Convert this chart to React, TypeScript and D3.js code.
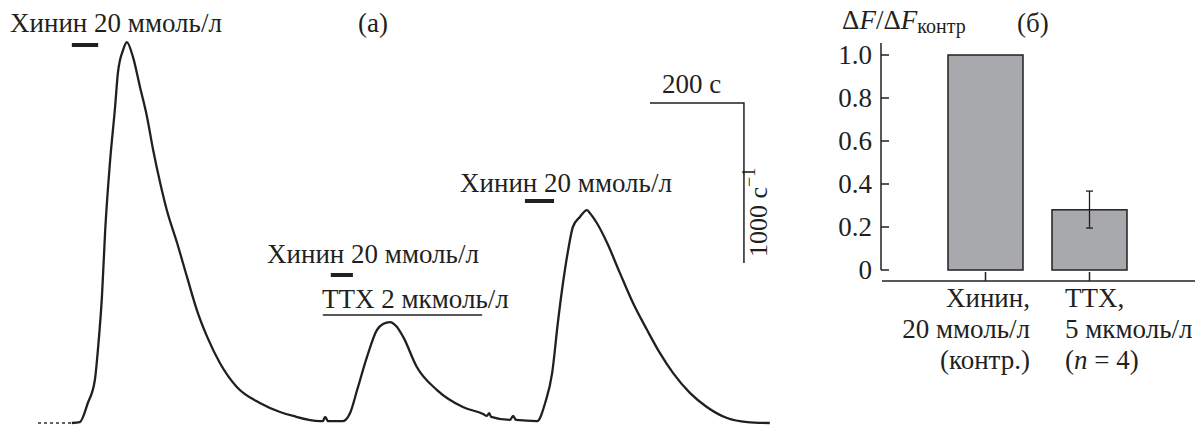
import React from "react";
import * as d3 from "d3";

// ---------- Panel (a): fluorescence trace ----------
// time, s
const traceTime = [0, 26, 51, 72, 89, 106, 121, 128, 136, 143, 153, 164, 170, 181, 189, 202, 217, 232, 245, 260, 274, 296, 317, 338, 360, 387, 423, 472, 515, 543, 600, 606, 611, 617, 649, 664, 679, 700, 721, 734, 749, 762, 777, 806, 849, 904, 947, 955, 960, 964, 1004, 1011, 1017, 1062, 1079, 1094, 1106, 1117, 1128, 1138, 1153, 1168, 1174, 1189, 1211, 1238, 1266, 1296, 1323, 1351, 1387, 1423, 1466, 1509, 1557];
// signal, s^-1
const traceSignal = [0, 0, 0, 0, 6, 125, 269, 475, 788, 1206, 1625, 1975, 2188, 2331, 2381, 2288, 2100, 1913, 1706, 1500, 1331, 1125, 913, 706, 538, 375, 225, 125, 69, 44, 12, 12, 38, 12, 12, 62, 206, 413, 581, 619, 631, 606, 538, 350, 206, 100, 56, 44, 62, 38, 19, 44, 19, 12, 125, 313, 625, 875, 1081, 1225, 1288, 1331, 1313, 1250, 1125, 938, 750, 581, 438, 313, 188, 100, 31, 6, 0];
const recordStart = 72; // s, solid trace starts here

// stimulus applications (s)
const quinineStart = [72, 623, 1036];
const quinineEnd = [128, 670, 1098];
const ttxPeriod = [606, 945];

const scaleBarTime = [1302, 1502];
const scaleBarSignal = [1000, 2000];

// ---------- Panel (б): bar chart ----------
const categories = ["quinine", "ttx"];
const barValues = [1.0, 0.28];
const barErrLow = [null, 0.195];
const barErrHigh = [null, 0.367];
const yTickValues = [0, 0.2, 0.4, 0.6, 0.8, 1.0];
const yTickLabels = ["0", "0.2", "0.4", "0.6", "0.8", "1.0"];

const INK = "#231f20";
const FONT = "Liberation Serif";

function T(props: any) {
  const { children, ...rest } = props;
  return (
    <text fontFamily={FONT} style={{ fontFamily: FONT }} fill={INK} {...rest}>
      {children}
    </text>
  );
}

export default function App() {
  const x = d3.scaleLinear().domain([0, 1600]).range([38, 38 + 1600 * 0.47]);
  const y = d3.scaleLinear().domain([0, 2500]).range([423, 423 - 2500 * 0.16]);

  const pts = traceTime.map((t, i) => [t, traceSignal[i]] as [number, number]);
  const line = d3
    .line<[number, number]>()
    .x((d) => x(d[0]))
    .y((d) => y(d[1]))
    .curve(d3.curveMonotoneX);
  const solid = line(pts.filter((d) => d[0] >= recordStart)) || "";
  const dashed = line(pts.filter((d) => d[0] <= recordStart)) || "";

  const by = d3.scaleLinear().domain([0, 1]).range([270, 55]);
  const bx = d3.scalePoint<string>().domain(categories).range([985.5, 1089.5]);
  const barW = 75;
  const axisX = 881;
  const axisBottom = 281;

  const fs = 27;
  const stimY = [45, 275, 201];

  return (
    <svg width={1199} height={425} style={{ position: "absolute", left: 0, top: 0, background: "#fff" }}>
      <rect width={1199} height={425} fill="#fff" />
      {/* ---- panel a ---- */}
      <path d={dashed} fill="none" stroke={INK} strokeWidth={2} strokeDasharray="3,3" opacity={0.7} />
      <path d={solid} fill="none" stroke={INK} strokeWidth={2.3} strokeLinejoin="round" />

      {quinineStart.map((s, i) => (
        <line key={"q" + i} x1={x(s)} x2={x(quinineEnd[i])} y1={stimY[i]} y2={stimY[i]} stroke={INK} strokeWidth={4} />
      ))}
      <line x1={x(ttxPeriod[0])} x2={x(ttxPeriod[1])} y1={315} y2={315} stroke={INK} strokeWidth={1.5} />

      <T x={10} y={32} fontSize={fs}>Хинин 20 ммоль/л</T>
      <T x={358} y={32} fontSize={fs}>(а)</T>
      <T x={267} y={263} fontSize={fs}>Хинин 20 ммоль/л</T>
      <T x={322} y={308} fontSize={fs}>ТТХ 2 мкмоль/л</T>
      <T x={460} y={192} fontSize={fs}>Хинин 20 ммоль/л</T>
      <T x={662} y={93} fontSize={fs}>200 с</T>

      <path
        d={`M${x(scaleBarTime[0])},${y(scaleBarSignal[1])}H${x(scaleBarTime[1])}V${y(scaleBarSignal[0])}`}
        fill="none"
        stroke={INK}
        strokeWidth={1.5}
      />
      <T transform={`translate(767,${y(scaleBarSignal[0]) - 6}) rotate(-90)`} fontSize={26}>
        1000 с<tspan dy={-12} fontSize={18}>−1</tspan>
      </T>

      {/* ---- panel б ---- */}
      <T x={842} y={29} fontSize={fs}>
        Δ<tspan fontStyle="italic">F</tspan>/Δ<tspan fontStyle="italic">F</tspan>
        <tspan fontSize={20} dy={4}>контр</tspan>
      </T>
      <T x={1017} y={32} fontSize={fs}>(б)</T>

      <line x1={axisX} x2={axisX} y1={43} y2={by(0)} stroke={INK} strokeWidth={1.5} />
      {yTickValues.map((v, i) => (
        <g key={"t" + i}>
          <line x1={axisX} x2={axisX + 8} y1={by(v)} y2={by(v)} stroke={INK} strokeWidth={1.5} />
          <T x={872} y={by(v)} dy="0.35em" textAnchor="end" fontSize={fs}>
            {yTickLabels[i]}
          </T>
        </g>
      ))}
      <line x1={882} x2={1195} y1={axisBottom} y2={axisBottom} stroke={INK} strokeWidth={1.5} />

      {categories.map((c, i) => {
        const cx = bx(c) as number;
        return (
          <g key={c}>
            <rect x={cx - barW / 2} y={by(barValues[i])} width={barW} height={by(0) - by(barValues[i])} fill="#a7a9ac" stroke={INK} strokeWidth={1.5} />
            <line x1={cx} x2={cx} y1={axisBottom} y2={axisBottom - 9} stroke={INK} strokeWidth={1.5} />
            {barErrLow[i] != null && (
              <g stroke={INK} strokeWidth={1.3}>
                <line x1={cx} x2={cx} y1={by(barErrLow[i] as number)} y2={by(barErrHigh[i] as number)} />
                <line x1={cx - 3.5} x2={cx + 3.5} y1={by(barErrLow[i] as number)} y2={by(barErrLow[i] as number)} />
                <line x1={cx - 3.5} x2={cx + 3.5} y1={by(barErrHigh[i] as number)} y2={by(barErrHigh[i] as number)} />
              </g>
            )}
          </g>
        );
      })}

      <T x={1030} y={307} textAnchor="end" fontSize={fs}>Хинин,</T>
      <T x={1030} y={338} textAnchor="end" fontSize={fs}>20 ммоль/л</T>
      <T x={1030} y={369} textAnchor="end" fontSize={fs}>(контр.)</T>
      <T x={1065} y={307} fontSize={fs}>ТТХ,</T>
      <T x={1065} y={338} fontSize={fs}>5 мкмоль/л</T>
      <T x={1065} y={369} fontSize={fs}>
        (<tspan fontStyle="italic">n</tspan> = 4)
      </T>
    </svg>
  );
}
